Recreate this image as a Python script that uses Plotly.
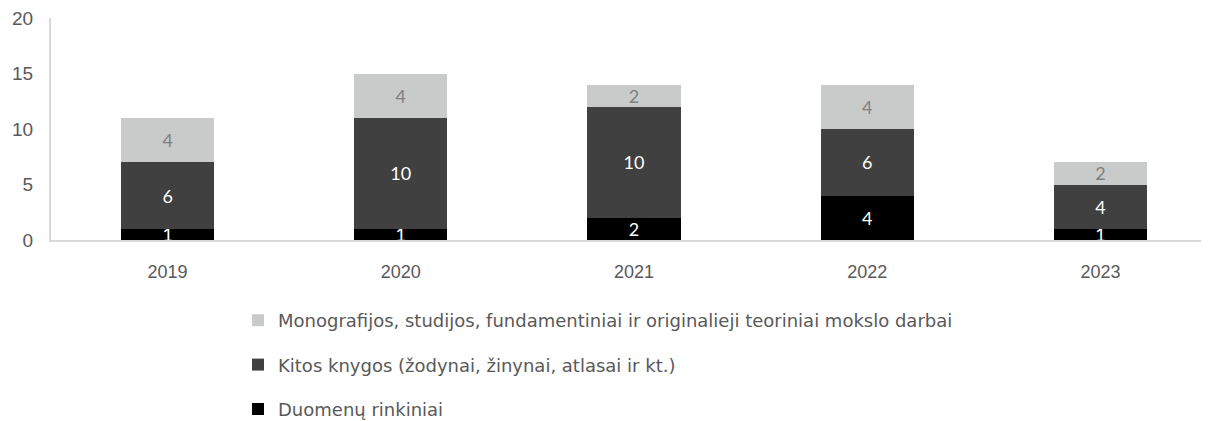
import plotly.graph_objects as go

years = ["2019", "2020", "2021", "2022", "2023"]
duomenu = [1, 1, 2, 4, 1]
kitos = [6, 10, 10, 6, 4]
monografijos = [4, 4, 2, 4, 2]

names = [
    "Duomenų rinkiniai",
    "Kitos knygos (žodynai, žinynai, atlasai ir kt.)",
    "Monografijos, studijos, fundamentiniai ir originalieji teoriniai mokslo darbai",
]
series = [duomenu, kitos, monografijos]
colors = ["#000000", "#404041", "#c9cbcb"]
textcolors = ["#ffffff", "#ffffff", "#808080"]
ranks = [3, 2, 1]

fig = go.Figure()
for i, (nm, vals, c, tc) in enumerate(zip(names, series, colors, textcolors)):
    fig.add_trace(go.Bar(
        x=years, y=vals, name=nm,
        marker=dict(color=c, line=dict(width=0)),
        text=[str(v) for v in vals],
        textposition="inside", insidetextanchor="middle",
        constraintext="none", textangle=0,
        textfont=dict(family="Lato, Liberation Sans", size=18, color=tc),
        legendgroup=f"g{i}", legendrank=ranks[i],
        hoverinfo="skip",
    ))

plot_w = 1166
fig.update_layout(
    barmode="stack",
    bargap=0.6,
    width=1209, height=421,
    margin=dict(l=43, r=0, t=10, b=189, autoexpand=False),
    plot_bgcolor="white", paper_bgcolor="white",
    showlegend=True,
    legend=dict(
        x=(230 - 43) / plot_w, y=-62 / 222,
        xanchor="left", yanchor="top",
        traceorder="grouped",
        tracegroupgap=18,
        font=dict(family="DejaVu Sans", size=18, color="#595959"),
        itemwidth=30,
    ),
    xaxis=dict(
        showline=True, linecolor="#d9d9d9", linewidth=2,
        ticks="", showgrid=False,
        tickfont=dict(family="Liberation Sans, Arial", size=18, color="#595959"),
        ticklabelstandoff=14,
    ),
    yaxis=dict(
        range=[0, 20], tickvals=[0, 5, 10, 15, 20],
        showline=True, linecolor="#d9d9d9", linewidth=2,
        showgrid=False, zeroline=False, ticks="",
        tickfont=dict(family="Liberation Sans, Arial", size=19, color="#595959"),
        ticklabelstandoff=12, ticklabeloverflow="allow",
    ),
)

fig.write_html("out.html")
